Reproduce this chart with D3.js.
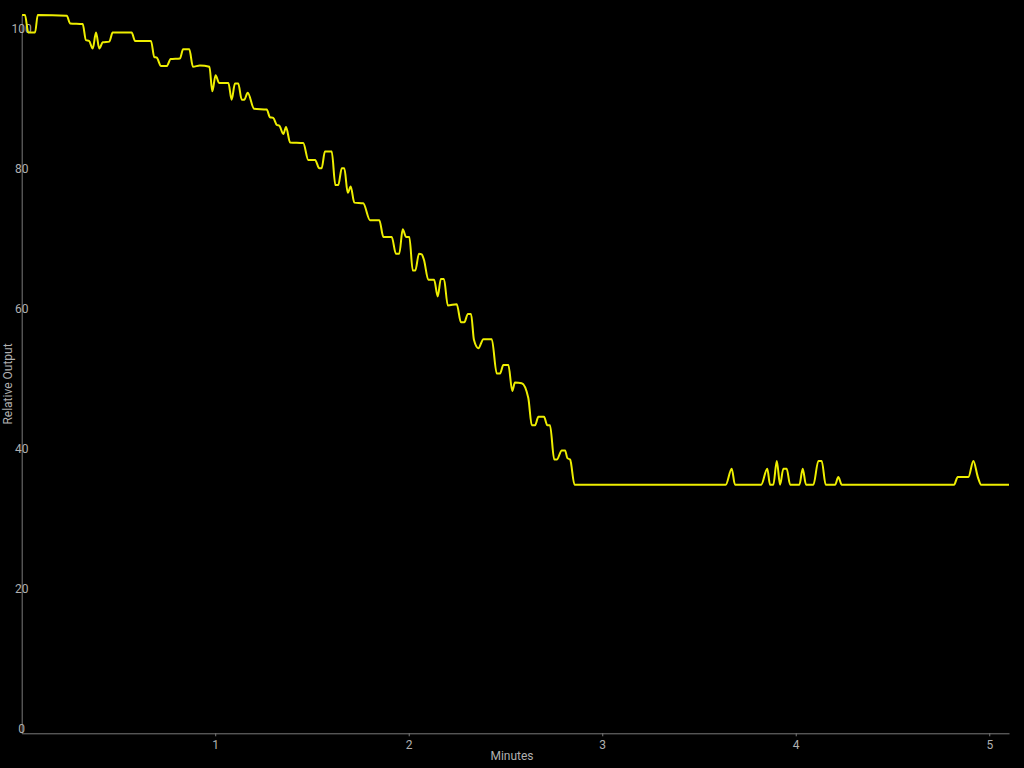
<!DOCTYPE html>
<html>
<head>
<meta charset="utf-8">
<script src="https://cdn.jsdelivr.net/npm/d3@7"></script>
<style>
  html, body { margin: 0; padding: 0; background: #000; }
  svg { display: block; }
  text { font-family: Roboto, "Noto Sans", sans-serif; }
</style>
</head>
<body>
<svg id="chart" width="1024" height="768"></svg>
<script>
// Time in minutes
const minutes = [
  0.002, 0.017, 0.034, 0.069, 0.083, 0.233, 0.250, 0.315, 0.332, 0.348,
  0.367, 0.384, 0.401, 0.419, 0.453, 0.470, 0.568, 0.586, 0.668, 0.685,
  0.698, 0.720, 0.749, 0.770, 0.818, 0.834, 0.866, 0.885, 0.921, 0.970,
  0.985, 1.002, 1.020, 1.068, 1.085, 1.102, 1.119, 1.137, 1.150, 1.168,
  1.201, 1.266, 1.283, 1.300, 1.318, 1.331, 1.352, 1.366, 1.387, 1.455,
  1.481, 1.516, 1.538, 1.550, 1.567, 1.602, 1.621, 1.636, 1.654, 1.667,
  1.685, 1.700, 1.719, 1.765, 1.800, 1.848, 1.869, 1.912, 1.934, 1.951,
  1.969, 1.986, 2.003, 2.021, 2.034, 2.053, 2.067, 2.079, 2.101, 2.131,
  2.150, 2.166, 2.182, 2.202, 2.248, 2.270, 2.287, 2.306, 2.322, 2.337,
  2.360, 2.386, 2.429, 2.455, 2.472, 2.489, 2.515, 2.535, 2.549, 2.584,
  2.618, 2.636, 2.653, 2.670, 2.699, 2.716, 2.730, 2.752, 2.765, 2.791,
  2.808, 2.820, 2.834, 2.857, 3.638, 3.669, 3.686, 3.821, 3.853, 3.867,
  3.884, 3.902, 3.919, 3.936, 3.953, 3.971, 4.019, 4.036, 4.053, 4.091,
  4.117, 4.134, 4.155, 4.203, 4.220, 4.238, 4.818, 4.837, 4.892, 4.918,
  4.941, 4.958, 5.102
];
// Relative output values
const output = [
  102.6, 102.6, 100.1, 100.1, 102.6, 102.5, 101.4, 101.3, 99.0, 98.9,
  97.8, 100.1, 97.8, 98.7, 98.8, 100.1, 100.1, 98.9, 98.9, 96.6,
  96.5, 95.3, 95.3, 96.3, 96.4, 97.7, 97.7, 95.2, 95.4, 95.2,
  91.7, 94.0, 92.9, 92.9, 90.5, 92.8, 92.8, 90.5, 90.5, 91.5,
  89.2, 89.1, 88.0, 87.9, 86.9, 86.8, 85.6, 86.6, 84.4, 84.3,
  81.9, 81.9, 80.7, 80.7, 83.1, 83.1, 78.3, 78.3, 80.7, 80.7,
  77.2, 78.1, 75.8, 75.7, 73.3, 73.3, 70.9, 70.9, 68.5, 68.5,
  72.0, 70.9, 70.9, 66.1, 66.1, 68.5, 68.4, 67.6, 64.8, 64.8,
  62.4, 64.9, 64.9, 61.1, 61.3, 58.7, 58.7, 59.9, 59.9, 56.2,
  55.0, 56.3, 56.3, 51.4, 51.4, 52.6, 52.6, 48.9, 50.1, 50.0,
  47.9, 44.0, 44.0, 45.2, 45.2, 44.0, 44.0, 39.1, 39.1, 40.4,
  40.4, 39.3, 39.1, 35.5, 35.5, 37.8, 35.5, 35.5, 37.8, 35.5,
  35.5, 38.9, 35.5, 37.8, 37.8, 35.5, 35.5, 37.8, 35.5, 35.5,
  38.9, 38.9, 35.5, 35.5, 36.6, 35.5, 35.5, 36.6, 36.6, 38.9,
  36.6, 35.5, 35.5
];
const xTicks = [1, 2, 3, 4, 5];
const yTicks = [0, 20, 40, 60, 80, 100];
const xLabel = "Minutes";
const yLabel = "Relative Output";

const data = minutes.map((t, i) => ({ t, v: output[i] }));

const svg = d3.select("#chart");
const W = 1024, H = 768;
const margin = { left: 21.7, right: 15, top: 15, bottom: 34.7 };

const x = d3.scaleLinear()
  .domain([0, d3.max(minutes)])
  .range([margin.left, W - margin.right]);
const y = d3.scaleLinear()
  .domain([0, d3.max(output)])
  .range([H - margin.bottom, margin.top]);

const axisColor = "#7a7a7a";
const textColor = "#b0b0b0";

// X axis
const gx = svg.append("g")
  .attr("transform", `translate(0,${H - margin.bottom})`)
  .call(d3.axisBottom(x).tickValues(xTicks).tickFormat(d3.format("d"))
    .tickSize(3).tickSizeOuter(0).tickPadding(4));
gx.select(".domain").attr("stroke", axisColor);
gx.selectAll(".tick line").attr("stroke", axisColor);
gx.selectAll(".tick text").attr("fill", textColor)
  .style("font-size", "12px").style("font-family", "Roboto, sans-serif");

// Y axis
const gy = svg.append("g")
  .attr("transform", `translate(${margin.left},0)`)
  .call(d3.axisLeft(y).tickValues(yTicks).tickFormat(d3.format("d"))
    .tickSize(0).tickSizeOuter(0));
gy.select(".domain").attr("stroke", axisColor);
gy.selectAll(".tick text")
  .attr("x", 0).attr("dy", "-1px")
  .attr("text-anchor", "middle")
  .attr("fill", textColor)
  .style("font-size", "12px").style("font-family", "Roboto, sans-serif");

// Axis titles
svg.append("text")
  .attr("x", W / 2)
  .attr("y", 760)
  .attr("text-anchor", "middle")
  .attr("fill", textColor)
  .style("font-size", "12px")
  .text(xLabel);

svg.append("text")
  .attr("transform", `translate(12,${H / 2}) rotate(-90)`)
  .attr("text-anchor", "middle")
  .attr("fill", textColor)
  .style("font-size", "12px")
  .text(yLabel);

// Line
const line = d3.line()
  .x(d => x(d.t))
  .y(d => y(d.v))
  .curve(d3.curveMonotoneX);

svg.append("path")
  .datum(data)
  .attr("fill", "none")
  .attr("stroke", "#eeee00")
  .attr("stroke-width", 2)
  .attr("stroke-linejoin", "round")
  .attr("d", line);
</script>
</body>
</html>
